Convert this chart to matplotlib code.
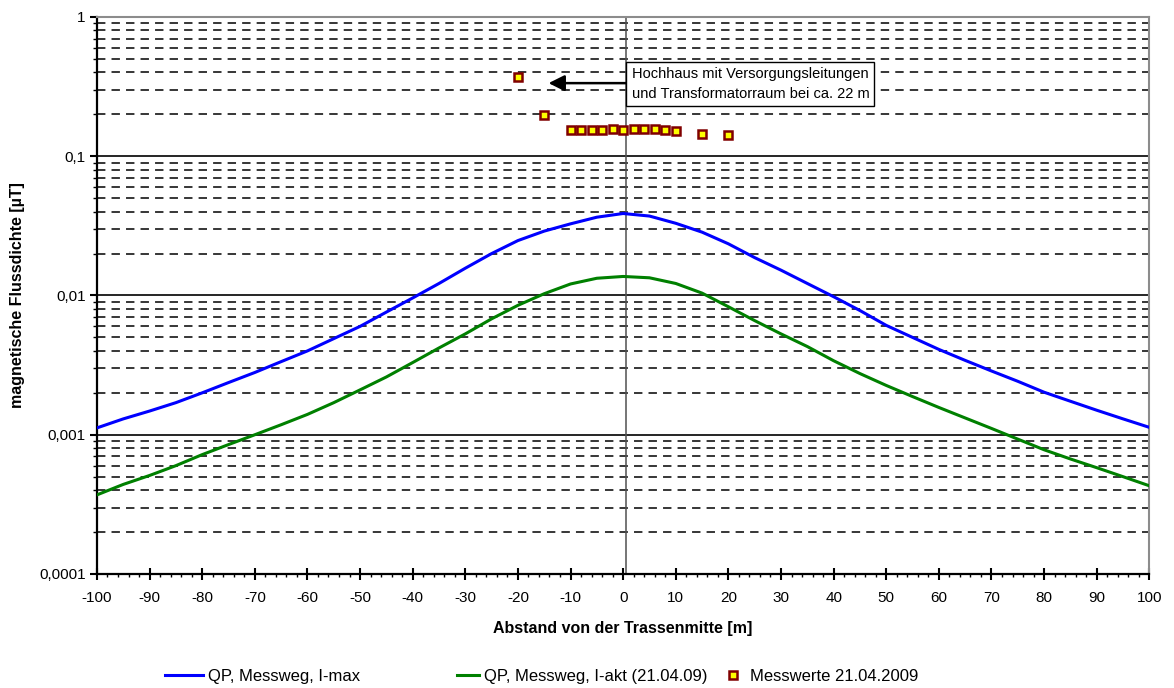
import numpy as np
import matplotlib
matplotlib.use("Agg")
import matplotlib.pyplot as plt
from matplotlib.ticker import FixedLocator, LogLocator, NullFormatter

plt.rcParams['font.family'] = ['Liberation Sans', 'DejaVu Sans']

# Abstand von der Trassenmitte [m]
abstand = [-100, -95, -90, -85, -80, -75, -70, -65, -60, -55, -50, -45, -40, -35, -30,
           -25, -20, -15, -10, -5, 0, 5, 10, 15, 20, 25, 30, 35, 40, 45, 50, 55, 60,
           65, 70, 75, 80, 85, 90, 95, 100]

# QP, Messweg, I-max [µT]
b_imax = [0.00112, 0.0013, 0.00148, 0.0017, 0.002, 0.00237, 0.0028, 0.00335, 0.0040, 0.0049,
          0.0060, 0.0076, 0.0096, 0.0122, 0.0157, 0.02, 0.0248, 0.029, 0.0327, 0.0365,
          0.0388, 0.0372, 0.033, 0.0285, 0.0235, 0.0187, 0.0152, 0.0122, 0.0098, 0.0078,
          0.0061, 0.0050, 0.0041, 0.00342, 0.00287, 0.00242, 0.00202, 0.00174, 0.0015,
          0.0013, 0.00113]

# QP, Messweg, I-akt (21.04.09) [µT]
b_iakt = [0.00037, 0.00044, 0.00051, 0.0006, 0.00072, 0.00085, 0.001, 0.00118, 0.0014, 0.0017,
          0.0021, 0.0026, 0.0033, 0.0042, 0.0053, 0.0068, 0.0085, 0.0103, 0.0121, 0.0133,
          0.0137, 0.0134, 0.0122, 0.0104, 0.0083, 0.0066, 0.0053, 0.0043, 0.0034, 0.00275,
          0.00226, 0.00188, 0.00157, 0.00132, 0.00111, 0.00093, 0.00078, 0.00067, 0.00058,
          0.0005, 0.00043]

# Messwerte 21.04.2009
mess_x = [-20, -15, -10, -8, -6, -4, -2, 0, 2, 4, 6, 8, 10, 15, 20]
mess_b = [0.372, 0.197, 0.154, 0.154, 0.154, 0.154, 0.156, 0.154, 0.156, 0.156, 0.156,
          0.154, 0.151, 0.145, 0.141]

ytick_vals = [0.0001, 0.001, 0.01, 0.1, 1]
ytick_labels = ['0,0001', '0,001', '0,01', '0,1', '1']
xtick_vals = list(range(-100, 101, 10))

fig = plt.figure(figsize=(11.74, 6.88), dpi=100)
ax = fig.add_axes([0.0826, 0.1657, 0.8964, 0.8096])

ax.set_yscale('log')
ax.set_xlim(-100, 100)
ax.set_ylim(0.0001, 1)

# Gitternetz
ax.yaxis.set_minor_locator(LogLocator(base=10, subs=np.arange(2, 10)))
ax.yaxis.set_minor_formatter(NullFormatter())
ax.grid(which='minor', axis='y', color='black', lw=1.1, linestyle=(0, (5.5, 4.0)))
ax.grid(which='major', axis='y', color='black', lw=1.2)
ax.grid(which='major', axis='x', visible=False)
ax.set_axisbelow(True)
ax.axvline(0.5, color='#505050', lw=1.1, zorder=1)

l1, = ax.plot(abstand, b_imax, color='#0000FF', lw=2.2, zorder=3)
l2, = ax.plot(abstand, b_iakt, color='#008000', lw=2.2, zorder=3)
l3, = ax.plot(mess_x, mess_b, linestyle='none', marker='s', markersize=5.8,
              markerfacecolor='#FFFF00', markeredgecolor='#800000', markeredgewidth=1.8,
              zorder=4)

ax.set_yticks(ytick_vals)
ax.set_yticklabels(ytick_labels)
ax.set_xticks(xtick_vals)
ax.set_xticklabels([str(v) for v in xtick_vals])
ax.xaxis.set_minor_locator(FixedLocator(list(range(-100, 101, 2))))

ax.tick_params(axis='y', which='major', direction='out', length=5, width=1.5, labelsize=11, pad=3)
ax.tick_params(axis='y', which='minor', direction='out', length=3, width=1.0)
ax.tick_params(axis='x', which='major', direction='inout', length=9, width=1.5, labelsize=11, pad=8)
ax.tick_params(axis='x', which='minor', direction='out', length=2.5, width=1.0)

for s in ['left', 'bottom']:
    ax.spines[s].set_linewidth(1.6)
    ax.spines[s].set_color('black')
for s in ['top', 'right']:
    ax.spines[s].set_linewidth(1.5)
    ax.spines[s].set_color('#8c8c8c')

ax.set_xlabel('Abstand von der Trassenmitte [m]', fontsize=11.5, fontweight='bold', labelpad=11)
ax.set_ylabel('magnetische Flussdichte [µT]', fontsize=11.5, fontweight='bold', labelpad=10)

# Hinweis mit Pfeil
ax.annotate('', xy=(-14.7, 0.335), xytext=(1.2, 0.335),
            arrowprops=dict(arrowstyle='-|>', color='black', lw=1.8, mutation_scale=24),
            zorder=5)
ax.text(1.6, 0.33, 'Hochhaus mit Versorgungsleitungen\nund Transformatorraum bei ca. 22 m',
        fontsize=10.5, ha='left', va='center', linespacing=1.5, zorder=6,
        bbox=dict(boxstyle='square,pad=0.35', facecolor='white', edgecolor='black', lw=1.0))

# Legende
leg_font = 12
fig.legend([l1], ['QP, Messweg, I-max'], loc='center left', bbox_to_anchor=(0.135, 0.017),
           frameon=False, fontsize=leg_font, handlelength=2.3, handletextpad=0.3, borderaxespad=0)
fig.legend([l2], ['QP, Messweg, I-akt (21.04.09)'], loc='center left', bbox_to_anchor=(0.384, 0.017),
           frameon=False, fontsize=leg_font, handlelength=1.3, handletextpad=0.3, borderaxespad=0)
fig.legend([l3], ['Messwerte 21.04.2009'], loc='center left', bbox_to_anchor=(0.612, 0.017),
           frameon=False, fontsize=leg_font, handlelength=0.9, handletextpad=0.6, borderaxespad=0)

fig.savefig('out.png', dpi=100)
